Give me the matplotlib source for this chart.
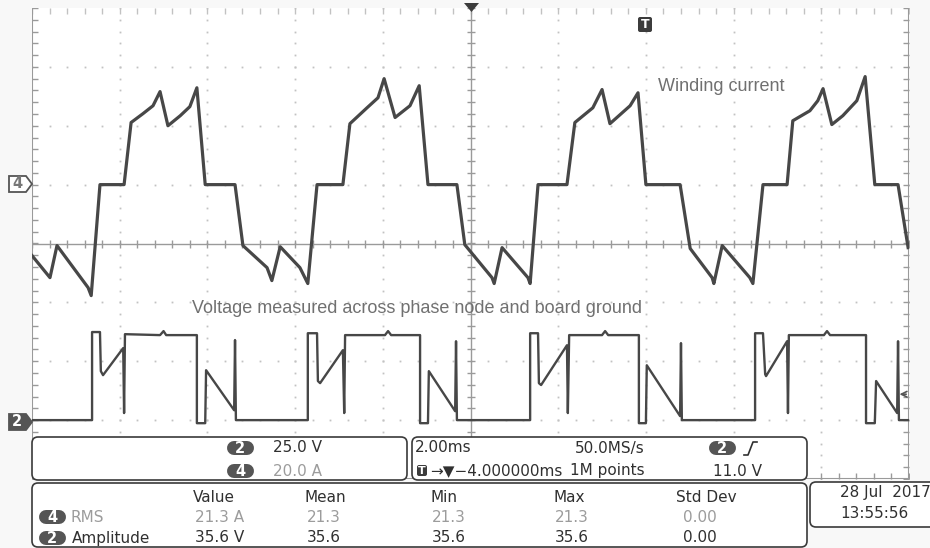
import matplotlib
matplotlib.use('Agg')
import matplotlib.pyplot as plt
from matplotlib.patches import FancyBboxPatch, Polygon
from matplotlib import markers as mk
import numpy as np

# scope settings
MS_PER_DIV = 2.0
AMP_PER_DIV = 20.0
VOLT_PER_DIV = 25.0
CH4_POS = 1.0      # divisions above centre
CH2_POS = -3.0
TRIG_LEVEL = 11.0  # V

# channel 4: winding current (time in ms from left edge, current in A)
cur_t = [0.00, 0.41, 0.57, 1.28, 1.35, 1.55,
         2.10, 2.26, 2.53, 2.76, 2.92, 3.10, 3.38, 3.60, 3.76, 3.95, 4.63,
         4.81, 5.36, 5.47, 5.66, 6.11, 6.29, 6.50,
         7.09, 7.25, 7.64, 7.89, 8.03, 8.28, 8.62, 8.83, 9.03, 9.69,
         9.87, 10.49, 10.54, 10.72, 11.31, 11.36, 11.54,
         12.20, 12.38, 12.79, 13.00, 13.18, 13.64, 13.82, 14.00, 14.78,
         15.01, 15.51, 15.55, 15.74, 16.37, 16.44, 16.67,
         17.22, 17.35, 17.74, 17.92, 18.04, 18.24, 18.49, 18.81, 19.00, 19.22, 19.75,
         19.98]
cur_a = [-24.1, -31.6, -20.7, -35.0, -37.7, 0.0,
         0.0, 21.1, 24.1, 26.8, 31.6, 20.0, 23.4, 26.5, 32.9, 0.0, 0.0,
         -20.7, -28.2, -32.6, -21.1, -28.2, -33.6, 0.0,
         0.0, 20.7, 26.1, 29.5, 36.0, 22.8, 26.8, 33.6, 0.0, 0.0,
         -20.4, -31.6, -33.6, -21.4, -31.6, -33.6, 0.0,
         0.0, 21.1, 26.1, 32.3, 20.7, 26.8, 31.2, 0.0, 0.0,
         -21.7, -31.6, -33.6, -20.7, -31.6, -33.6, 0.0,
         0.0, 21.7, 25.1, 28.5, 32.6, 20.4, 23.4, 28.5, 36.7, 0.0, 0.0,
         -21.4]

# channel 2: phase node voltage (time in ms, voltage in V)
volt_t = [0.00, 1.37, 1.37, 1.55, 1.57, 1.62, 2.08, 2.10, 2.12, 2.92, 3.00, 3.06,
          3.76, 3.76, 3.95, 3.97, 4.61, 4.63, 4.65,
          6.29, 6.29, 6.50, 6.52, 6.57, 7.09, 7.12, 7.14, 8.05, 8.12, 8.19,
          8.85, 8.85, 9.03, 9.05, 9.65, 9.67, 9.69,
          11.36, 11.36, 11.54, 11.56, 11.61, 12.20, 12.22, 12.25, 13.00, 13.07, 13.14,
          13.84, 13.84, 14.00, 14.02, 14.78, 14.80, 14.82,
          16.49, 16.49, 16.67, 16.72, 16.74, 17.22, 17.24, 17.26, 18.06, 18.13, 18.20,
          19.02, 19.02, 19.22, 19.25, 19.73, 19.75, 19.77, 19.98]
volt_v = [0.0, 0.0, 37.4, 37.4, 20.8, 19.1, 30.6, 3.0, 36.5, 36.1, 37.8, 36.1,
          36.1, -1.3, -1.3, 21.2, 4.2, 34.0, 0.0,
          0.0, 36.9, 36.9, 16.6, 15.7, 29.7, 3.0, 36.1, 36.1, 37.8, 36.1,
          36.1, -1.3, -1.3, 20.8, 3.8, 33.5, 0.0,
          0.0, 36.9, 36.9, 15.7, 14.9, 31.8, 3.0, 36.1, 36.1, 37.8, 36.1,
          36.1, -1.3, -1.3, 23.3, 1.7, 32.7, 0.0,
          0.0, 36.9, 36.9, 19.5, 18.7, 33.5, 3.0, 36.1, 36.1, 37.8, 36.1,
          36.1, -1.3, -1.3, 16.6, 3.0, 33.5, 0.0, 0.0]

# readouts
scale_rows = [('2', '25.0 V'), ('4', '20.0 A')]
meas_cols = ['Value', 'Mean', 'Min', 'Max', 'Std Dev']
meas_rms = ['21.3 A', '21.3', '21.3', '21.3', '0.00']
meas_amp = ['35.6 V', '35.6', '35.6', '35.6', '0.00']

TRACE = '#474747'
GRID = '#c2c2c2'
AXIS = '#9a9a9a'
DARK = '#303030'
LIGHT = '#9c9c9c'
BADGE = '#555555'
RO_FONT = 'DejaVu Sans'

fig = plt.figure(figsize=(9.3, 5.48), dpi=100)
fig.patch.set_facecolor('#f8f8f8')

ax = fig.add_axes([32/930, 1 - 479/548, 877/930, 471/548], zorder=1)
ax.set_facecolor('white')
ax.set_xlim(0, 10 * MS_PER_DIV)
ax.set_ylim(-4, 4)
ax.set_xticks([])
ax.set_yticks([])
for s in ax.spines.values():
    s.set_visible(False)

# graticule
xs_fine = np.arange(0, 10.001, 0.2) * MS_PER_DIV
ys_fine = np.arange(-4, 4.001, 0.2)
for k in range(1, 10):
    if k == 5:
        continue
    ax.plot([k * MS_PER_DIV] * len(ys_fine), ys_fine, ls='none', marker='s', ms=1.3,
            color=GRID, mec='none')
for k in range(-3, 4):
    if k == 0:
        continue
    ax.plot(xs_fine, [k] * len(xs_fine), ls='none', marker='s', ms=1.3,
            color=GRID, mec='none')
ax.plot(xs_fine, [4] * len(xs_fine), ls='none', marker=mk.TICKDOWN, ms=4, color=GRID)
ax.axhline(0, color=AXIS, lw=1)
ax.axvline(5 * MS_PER_DIV, color=AXIS, lw=1)
ax.plot(xs_fine, [0] * len(xs_fine), ls='none', marker='|', ms=6, color=AXIS, mew=1)
ax.plot([5 * MS_PER_DIV] * len(ys_fine), ys_fine, ls='none', marker='_', ms=6, color=AXIS, mew=1)
ax.axvline(0, color=AXIS, lw=1.5)
ax.axvline(10 * MS_PER_DIV, color=AXIS, lw=1.5)
ax.axhline(-4, color=AXIS, lw=1.5)
ax.plot([0] * len(ys_fine), ys_fine, ls='none', marker=mk.TICKRIGHT, ms=4, color=AXIS)
ax.plot([10 * MS_PER_DIV] * len(ys_fine), ys_fine, ls='none', marker=mk.TICKLEFT, ms=4, color=AXIS)
ax.plot(xs_fine, [-4] * len(xs_fine), ls='none', marker=mk.TICKUP, ms=4, color=AXIS)

# traces
ax.plot(cur_t, np.array(cur_a) / AMP_PER_DIV + CH4_POS, color=TRACE, lw=2.3,
        solid_joinstyle='round')
ax.plot(volt_t, np.array(volt_v) / VOLT_PER_DIV + CH2_POS, color=TRACE, lw=1.7,
        solid_joinstyle='round')
trig_y = TRIG_LEVEL / VOLT_PER_DIV + CH2_POS
ax.annotate('', xy=(19.72, trig_y), xytext=(20.0, trig_y),
            arrowprops=dict(arrowstyle='->', color='#555555', lw=1.2))

ax.text(14.28, 2.66, 'Winding current', fontsize=13, family='Liberation Sans',
        color='#707070', va='center')
ax.text(3.66, -1.10, 'Voltage measured across phase node and board ground', fontsize=13,
        family='Liberation Sans', color='#707070', va='center')

# overlay in pixel units for the scope chrome
ov = fig.add_axes([0, 0, 1, 1], zorder=3)
ov.set_xlim(0, 930)
ov.set_ylim(548, 0)
ov.axis('off')
ov.patch.set_alpha(0)


def rbox(x0, y0, x1, y1, r=6, fc='white', ec='#3a3a3a', lw=1.2):
    ov.add_patch(FancyBboxPatch((x0 + r, y0 + r), x1 - x0 - 2 * r, y1 - y0 - 2 * r,
                                boxstyle='round,pad=%d' % r, fc=fc, ec=ec, lw=lw))


def badge(xc, yc, label, w=27, h=14):
    # pill drawn as a thick line with round caps (h pixels -> points)
    ov.plot([xc - w / 2 + h / 2, xc + w / 2 - h / 2], [yc, yc], color=BADGE,
            lw=h * 0.72, solid_capstyle='round', zorder=4)
    ov.text(xc, yc + 0.5, label, color='white', fontsize=10.5, family=RO_FONT,
            ha='center', va='center', fontweight='bold', zorder=5)


# channel markers on the left
ov.add_patch(Polygon([(9, 176), (26, 176), (32, 184), (26, 192), (9, 192)],
                     closed=True, fc='white', ec='#555555', lw=1.3))
ov.text(17, 184, '4', color='#777777', fontsize=10.5, ha='center', va='center',
        fontweight='bold')
ov.add_patch(Polygon([(9, 414), (26, 414), (32, 422), (26, 430), (9, 430)],
                     closed=True, fc='#555555', ec='#555555', lw=1.3))
ov.text(17, 422, '2', color='white', fontsize=10.5, ha='center', va='center',
        fontweight='bold')

# trigger markers
ov.add_patch(Polygon([(464, 3), (479, 3), (471.5, 12)], closed=True, fc='#3c3c3c', ec='none'))
ov.add_patch(FancyBboxPatch((640, 19), 10, 11, boxstyle='round,pad=2', fc='#3c3c3c', ec='none'))
ov.text(645, 25, 'T', color='white', fontsize=9, fontweight='bold', ha='center', va='center')

# readout boxes
rbox(32, 437, 407, 480)
rbox(412, 437, 807, 480)
rbox(32, 483, 807, 547)
rbox(810, 482, 945, 527)

for i, (ch, txt) in enumerate(scale_rows):
    y = 448 + 23 * i
    badge(240, y, ch)
    ov.text(273, y, txt, fontsize=11, family=RO_FONT, va='center',
            color=DARK if ch == '2' else LIGHT)

ov.text(415, 448, '2.00ms', fontsize=11, family=RO_FONT, va='center', color=DARK)
ov.add_patch(FancyBboxPatch((419, 467), 6, 7, boxstyle='round,pad=2', fc='#3c3c3c', ec='none'))
ov.text(422, 471, 'T', color='white', fontsize=8, fontweight='bold', ha='center', va='center')
ov.text(430, 471, '→▼−4.000000ms', fontsize=11, family=RO_FONT, va='center', color=DARK)
ov.text(645, 448, '50.0MS/s', fontsize=11, family=RO_FONT, va='center', ha='right', color=DARK)
ov.text(645, 471, '1M points', fontsize=11, family=RO_FONT, va='center', ha='right', color=DARK)
badge(722, 448, '2')
ov.plot([744, 748, 753, 757], [455, 455, 442, 442], color=DARK, lw=1.2)
ov.text(762, 471, '%.1f V' % TRIG_LEVEL, fontsize=11, family=RO_FONT, va='center',
        ha='right', color=DARK)

col_x = [195, 307, 432, 555, 683]
col_c = [214, 325, 444, 569, 706]
for cx, name in zip(col_c, meas_cols):
    ov.text(cx, 497, name, fontsize=11, family=RO_FONT, va='center', ha='center', color=DARK)
badge(52, 517, '4')
ov.text(70, 517, 'RMS', fontsize=11, family=RO_FONT, va='center', color=LIGHT)
badge(52, 538, '2')
ov.text(72, 538, 'Amplitude', fontsize=11, family=RO_FONT, va='center', color=DARK)
for cx, a, b in zip(col_x, meas_rms, meas_amp):
    ov.text(cx, 517, a, fontsize=11, family=RO_FONT, va='center', color=LIGHT)
    ov.text(cx, 538, b, fontsize=11, family=RO_FONT, va='center', color=DARK)

ov.text(840, 493, '28 Jul  2017', fontsize=11, family=RO_FONT, va='center', color=DARK)
ov.text(840, 513, '13:55:56', fontsize=11, family=RO_FONT, va='center', color=DARK)

fig.savefig('out.png', dpi=100, facecolor=fig.get_facecolor())
